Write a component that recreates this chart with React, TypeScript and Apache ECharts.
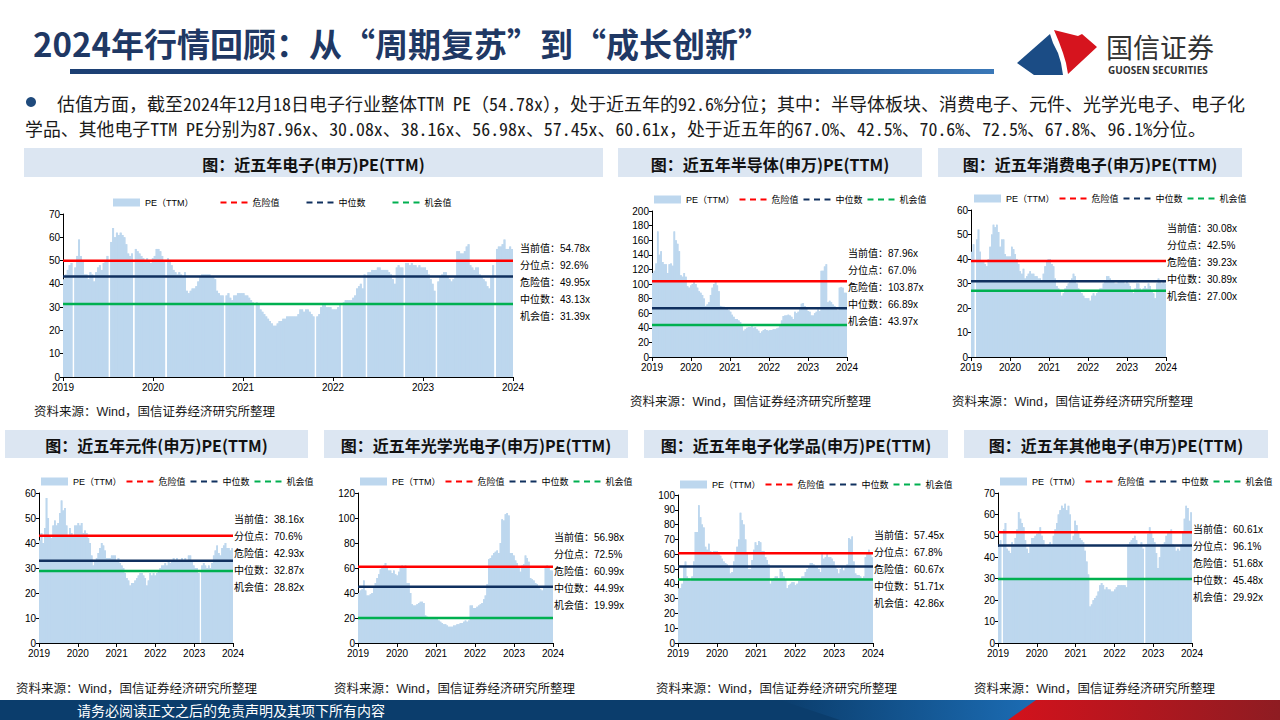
import React, { useEffect, useRef } from "react";
import * as echarts from "echarts";

// ---------------- data ----------------
const yearLabels = [2019, 2020, 2021, 2022, 2023, 2024];

const chartTitles = [
  "图：近五年电子(申万)PE(TTM)",
  "图：近五年半导体(申万)PE(TTM)",
  "图：近五年消费电子(申万)PE(TTM)",
  "图：近五年元件(申万)PE(TTM)",
  "图：近五年光学光电子(申万)PE(TTM)",
  "图：近五年电子化学品(申万)PE(TTM)",
  "图：近五年其他电子(申万)PE(TTM)",
];

const currentValues = [54.78, 87.96, 30.08, 38.16, 56.98, 57.45, 60.61];
const percentiles = ["92.6", "67.0", "42.5", "70.6", "72.5", "67.8", "96.1"];
const dangerValues = [49.95, 103.87, 39.23, 42.93, 60.99, 60.67, 51.68];
const medianValues = [43.13, 66.89, 30.89, 32.87, 44.99, 51.71, 45.48];
const chanceValues = [31.39, 43.97, 27.0, 28.82, 19.99, 42.86, 29.92];

const yMaxes = [70, 200, 60, 60, 120, 100, 70];
const yIntervals = [10, 20, 10, 10, 20, 10, 10];

// 电子(申万) PE(TTM)
const peAll = [
  42, 44, 46, 48, 49, null, 47, 52, 59, 52,
  50, 44, 44, 42, 45, 44, 41, 45, 47, 48,
  46, 49, 50, 52, null, 58, 64, 60, 62, 61,
  62, 61, 60, 57, 53, 52, 53, null, 55, 54,
  53, 52, 51, 50, 51, 50, 49, 51, 52, 55,
  55, 54, 52, 50, null, 51, 50, 48, 46, 45,
  44, 45, 44, 43, 45, 37, 36, 37, 38, 38,
  39, 41, 43, 44, 44, 44, 44, 44, 43, 43,
  42, 37, 36, 35, 35, null, 35, 36, 34, 33,
  35, 35, 36, 36, 36, 36, 35, 35, 34, 33,
  32, null, 32, 31, 29, 28, 27, 26, 25, 24,
  23, 22, 22, 23, 24, 24, 25, 25, 26, 26,
  26, 26, 26, 26, 27, 29, 29, 28, 29, 29,
  28, 27, 26, null, 26, 27, 30, 31, 31, 30,
  30, 30, 29, 29, 29, 30, 31, null, 32, 33,
  33, 33, 33, 34, 35, 38, 39, 40, 38, 44,
  null, 45, 45, 46, 46, 46, 47, 47, 46, 46,
  46, 46, 45, 44, 42, 40, 47, 48, 47, 47,
  null, 49, 49, 48, 49, 48, 48, 47, 48, 47,
  47, 47, 46, 44, 42, 40, 37, null, 41, 43,
  44, 45, 45, 43, 42, 41, 42, 43, 54, 54,
  53, 53, 54, 56, 57, 48, 47, 46, 47, 47,
  44, 43, 42, 41, 39, 38, 43, 48, null, 55,
  56, 56, 57, 59, 55, 55, 56, 55,
];

// 半导体
const peSemi = [
  115, 118, 128, 172, 140, 145, 130, 127, 127, 115,
  127, 128, 125, 172, 160, 155, 145, 112, 110, 115,
  110, 97, 95, 98, 100, 105, 100, 95, 90, 88,
  85, 80, 70, 72, 75, 85, 95, 100, 103, 98,
  90, 70, 69, 69, 68, 66, 64, 62, 58, 55,
  52, 52, 50, 48, 42, 36, 38, 40, 41, 41,
  42, 40, 41, 38, 36, 33, 35, 37, 38, 37,
  36, 37, 37, 38, 38, 39, 40, 45, 50, 56,
  57, 57, 58, 57, 55, 52, 62, 60, 62, 65,
  73, 74, 70, 66, 63, 62, 57, 57, 60, 62,
  65, 63, 118, 118, 124, 127, 75, 77, 75, 72,
  70, 68, 64, 95, 96, 95, 88, 88,
];

// 消费电子
const peCons = [
  43, 46, null, 48, 52, 43, 39, 39, 38, 37,
  40, 45, 50, 54, 53, 54, 51, 45, 48, 48,
  42, 41, 41, 41, 45, 44, 42, 40, 38, 35,
  34, 36, 32, 33, 34, 35, 34, 34, 33, 33,
  32, 32, 31, 34, 37, 39, 40, 40, 38, 37,
  32, 29, 28, 27, 25, 26, 28, 29, 30, 31,
  32, 34, 33, 30, 28, 27, 26, 25, 24, 24,
  24, 23, 25, 26, 25, 26, 27, 28, 28, 30,
  31, 33, 33, 32, 31, 31, 30, 30, 31, 31,
  31, 31, 30, 31, 30, 29, 27, 26, 28, 30,
  30, 28, 27, 28, 29, 28, 30, 29, 27, 26,
  24, 30, 32, 31, 30, 31, 30,
];

// 元件
const peComp = [
  41, 44, 40, 46, 58, 50, 43, 42, 47, 49,
  47, 48, 52, 57, 53, 54, 47, 43, 46, 44,
  43, 47, 47, 48, 47, 48, 44, 45, 44, 42,
  40, 35, 31, 33, 34, 36, 38, 40, 39, 37,
  34, 34, 34, 35, 35, 35, 33, 34, 32, 31,
  30, 28, 26, 25, 23, 24, 24, 25, 26, 27,
  28, 28, 27, 26, 23, 25, 28, 27, 28, 27,
  28, 29, 30, 31, 31, 32, 31, 33, 32, 33,
  34, 33, 34, 33, 33, 34, 33, 34, 33, 35,
  35, 33, 31, 30, 30, 28, null, 31, 32, 31,
  30, 31, 30, 32, 35, 37, 39, 36, 35, 38,
  39, 40, 38, 38, 37, 38,
];

// 光学光电子
const peOpto = [
  40, 42, 43, 50, 42, 38, 38, 39, 40, 45,
  48, 52, 55, 59, 60, 62, 64, 60, 58, 58,
  56, 58, 55, 54, 57, 60, 62, 60, 62, 48,
  48, 40, 31, 30, 30, 31, 32, 33, 33, 32,
  22, 21, 20, 20, 20, 20, 20, 20, 18, 17,
  16, 15, 15, 14, 13, 13, 13, 14, 14, 15,
  15, 16, 16, 17, 18, 17, 18, 30, 30, 28,
  28, 29, 30, 31, 32, 35, 38, 47, 67, 68,
  70, 72, 73, 74, 72, 80, 99, 98, 103, 104,
  102, 72, 72, 70, 66, 64, 60, 57, 62, 63,
  70, 68, 65, 52, 51, 50, 48, 47, 45, 43,
  42, 45, 60, 62, 61, 58, 58,
];

// 电子化学品
const peChem = [
  37, 37, 40, 52, 55, 45, 44, 42, 45, 55,
  75, 75, 93, 85, 80, 78, 65, 63, 67, 62,
  61, 62, 62, 62, 60, 59, 57, 55, 54, 53,
  52, 47, 48, 55, 60, 65, 70, 88, 83, 80,
  70, 60, 50, 50, 56, 63, 68, 66, 69, 68,
  62, 62, 58, 56, 53, 40, 43, 44, 45, 45,
  44, 50, 48, 45, 43, 37, 39, 40, 41, 41,
  39, 40, 42, 43, 45, 45, 48, 50, 52, 54,
  54, 53, 52, 51, 50, 48, 60, 57, 58, 60,
  58, 58, 57, 55, 52, 50, 47, 50, 52, 49,
  51, 53, 71, 70, 72, 55, 47, 46, 46, 45,
  44, 45, 58, 60, 63, 60, 58,
];

// 其他电子
const peOther = [
  45, 48, null, 53, 56, 44, 43, 42, 47, 46,
  49, 53, 61, 58, 56, 54, 48, 44, 42, 46,
  49, 49, 50, 51, 52, 54, 50, 48, 45, 45,
  46, 47, 46, 50, 53, 56, 60, 62, 64, 63,
  65, 62, 64, 60, 48, 50, 57, 55, 52, 49,
  48, 47, 43, 38, 32, 17, 18, 20, 21, 22,
  24, 27, 28, 27, 25, 26, 25, 25, 24, 24,
  25, 26, 27, 27, 27, 27, 27, 26, 46, 47,
  48, 49, 50, 48, 46, 45, 47, 44, null, 46,
  51, 54, 52, 49, 47, 42, 35, 40, 45, 46,
  47, 50, 52, 52, 53, 46, 45, 43, 44, 43,
  46, 52, 58, 64, 63, 57, 61,
];

const peSeries = [peAll, peSemi, peCons, peComp, peOpto, peChem, peOther];

const headline = "2024年行情回顾：从“周期复苏”到“成长创新”";
const bodyLine1 =
  "估值方面，截至2024年12月18日电子行业整体TTM PE（54.78x），处于近五年的92.6%分位；其中：半导体板块、消费电子、元件、光学光电子、电子化";
const bodyLine2 =
  "学品、其他电子TTM PE分别为87.96x、30.08x、38.16x、56.98x、57.45x、60.61x，处于近五年的67.0%、42.5%、70.6%、72.5%、67.8%、96.1%分位。";
const sourceText = "资料来源：Wind，国信证券经济研究所整理";
const footerText = "请务必阅读正文之后的免责声明及其项下所有内容";

const PE_NAME = "PE（TTM）";
const DANGER_NAME = "危险值";
const MEDIAN_NAME = "中位数";
const CHANCE_NAME = "机会值";

// ---------------- layout ----------------
type Panel = {
  box: number[];
  plot: number[];
  legend: number[];
  legendGap: number;
  note: number[];
  src: number[];
};

const panels: Panel[] = [
  { box: [24, 148, 579, 29], plot: [63, 214, 450, 163], legend: [113, 198], legendGap: 26, note: [520, 248], src: [34, 412] },
  { box: [618, 148, 304, 29], plot: [652, 211, 195, 146], legend: [654, 195], legendGap: 4, note: [848, 253], src: [630, 402] },
  { box: [938, 148, 304, 29], plot: [971, 210, 195, 147], legend: [974, 194], legendGap: 4, note: [1167, 228], src: [952, 402] },
  { box: [5, 430, 303, 28], plot: [39, 493, 194, 150], legend: [41, 477], legendGap: 4, note: [234, 519], src: [16, 689] },
  { box: [324, 430, 304, 28], plot: [358, 493, 195, 150], legend: [360, 477], legendGap: 4, note: [554, 537], src: [334, 689] },
  { box: [644, 430, 304, 28], plot: [678, 495, 195, 148], legend: [680, 480], legendGap: 4, note: [874, 535], src: [656, 689] },
  { box: [964, 430, 304, 28], plot: [998, 493, 194, 150], legend: [1000, 477], legendGap: 4, note: [1193, 529], src: [974, 689] },
];

const CJK = "'Noto Sans CJK SC', 'Noto Sans', sans-serif";
const LATIN_CJK = "'Liberation Sans', Arial, 'Noto Sans CJK SC', sans-serif";
const MONO_CJK = "'Noto Sans Mono CJK SC', 'Liberation Mono', 'Noto Sans CJK SC', monospace";

const BAR_COLOR = "#bdd7ee";
const RED = "#ff0000";
const NAVY = "#10305f";
const GREEN = "#00b050";

function buildOption() {
  const grid: any[] = [];
  const xAxis: any[] = [];
  const yAxis: any[] = [];
  const series: any[] = [];
  const legend: any[] = [];
  const elements: any[] = [];

  const yStart = yearLabels[0];
  const yEnd = yearLabels[yearLabels.length - 1];

  panels.forEach((p, i) => {
    const [gl, gt, gw, gh] = p.plot;
    const data = peSeries[i];
    grid.push({ left: gl, top: gt, width: gw, height: gh, containLabel: false });
    xAxis.push({
      type: "category",
      gridIndex: i,
      data: data.map((_, k) => k),
      show: false,
      boundaryGap: true,
    });
    xAxis.push({
      type: "value",
      gridIndex: i,
      min: yStart,
      max: yEnd,
      interval: 1,
      position: "bottom",
      axisLine: { show: true, onZero: false, lineStyle: { color: "#000", width: 1 } },
      axisTick: { show: true, length: 4, lineStyle: { color: "#000" } },
      axisLabel: { fontSize: 10, color: "#000", margin: 5, fontFamily: LATIN_CJK, formatter: (v: number) => String(v) },
      splitLine: { show: false },
    });
    yAxis.push({
      type: "value",
      gridIndex: i,
      min: 0,
      max: yMaxes[i],
      interval: yIntervals[i],
      axisLine: { show: true, lineStyle: { color: "#000", width: 1 } },
      axisTick: { show: true, length: 3, lineStyle: { color: "#000" } },
      axisLabel: { fontSize: 10, color: "#000", margin: 3, fontFamily: LATIN_CJK },
      splitLine: { show: false },
    });
    series.push({
      type: "bar",
      name: PE_NAME,
      xAxisIndex: 2 * i,
      yAxisIndex: i,
      data,
      barCategoryGap: "0%",
      barGap: "0%",
      itemStyle: { color: BAR_COLOR },
      silent: true,
      z: 2,
    });
    // same values as a stepped fill underneath the bars (hides anti-aliasing seams between adjacent columns)
    series.push({
      type: "line",
      name: "PE-fill",
      xAxisIndex: 2 * i,
      yAxisIndex: i,
      data,
      step: "middle",
      symbol: "none",
      connectNulls: false,
      lineStyle: { width: 0, color: BAR_COLOR },
      areaStyle: { color: BAR_COLOR, opacity: 1 },
      silent: true,
      z: 1,
    });
    const lines: [string, number, string][] = [
      [DANGER_NAME, dangerValues[i], RED],
      [MEDIAN_NAME, medianValues[i], NAVY],
      [CHANCE_NAME, chanceValues[i], GREEN],
    ];
    lines.forEach(([name, v, color]) => {
      series.push({
        type: "line",
        name,
        xAxisIndex: 2 * i + 1,
        yAxisIndex: i,
        data: [
          [yStart, v],
          [yEnd, v],
        ],
        symbol: "none",
        lineStyle: { color, width: 2.5 },
        itemStyle: { color },
        silent: true,
        z: 3,
      });
    });

    legend.push({
      left: p.legend[0],
      top: p.legend[1],
      padding: 0,
      itemWidth: 27,
      itemHeight: 8,
      itemGap: p.legendGap,
      selectedMode: false,
      textStyle: { fontSize: 9, color: "#000", fontFamily: LATIN_CJK },
      data: [
        { name: PE_NAME, icon: "rect", itemStyle: { color: BAR_COLOR, borderWidth: 0 } },
        { name: DANGER_NAME, itemStyle: { opacity: 0 }, lineStyle: { color: RED, width: 2, type: [6, 4.5] } },
        { name: MEDIAN_NAME, itemStyle: { opacity: 0 }, lineStyle: { color: NAVY, width: 2, type: [6, 4.5] } },
        { name: CHANCE_NAME, itemStyle: { opacity: 0 }, lineStyle: { color: GREEN, width: 2, type: [6, 4.5] } },
      ],
    });

    // title box
    const [bx, by, bw, bh] = p.box;
    elements.push({ type: "rect", shape: { x: bx, y: by, width: bw, height: bh }, style: { fill: "#dce6f2" }, silent: true });
    elements.push({
      type: "text",
      x: bx + bw / 2,
      y: by + bh / 2 + 1,
      style: {
        text: chartTitles[i],
        fill: "#111",
        fontSize: 16,
        fontWeight: "bold",
        fontFamily: CJK,
        textAlign: "center",
        textVerticalAlign: "middle",
      },
      silent: true,
    });
    // notes
    const notes = [
      `当前值：${currentValues[i].toFixed(2)}x`,
      `分位点：${percentiles[i]}%`,
      `危险值：${dangerValues[i].toFixed(2)}x`,
      `中位数：${medianValues[i].toFixed(2)}x`,
      `机会值：${chanceValues[i].toFixed(2)}x`,
    ];
    notes.forEach((t, k) => {
      elements.push({
        type: "text",
        x: p.note[0],
        y: p.note[1] + k * 17,
        style: { text: t, fill: "#000", fontSize: 10, fontFamily: LATIN_CJK, textAlign: "left", textVerticalAlign: "middle" },
        silent: true,
      });
    });
    // source
    elements.push({
      type: "text",
      x: p.src[0],
      y: p.src[1],
      style: { text: sourceText, fill: "#1a1a1a", fontSize: 12.5, fontFamily: LATIN_CJK, textAlign: "left", textVerticalAlign: "middle" },
      silent: true,
    });
  });

  // header
  elements.push({
    type: "text",
    x: 33,
    y: 43,
    style: { text: headline, fill: "#1f3864", fontSize: 33, fontWeight: "bold", fontFamily: CJK, textAlign: "left", textVerticalAlign: "middle" },
    silent: true,
  });
  elements.push({
    type: "rect",
    shape: { x: 70, y: 69, width: 924, height: 5 },
    style: {
      fill: new echarts.graphic.LinearGradient(0, 0, 1, 0, [
        { offset: 0, color: "#1c3f73" },
        { offset: 0.75, color: "#22508a" },
        { offset: 1, color: "#3a78b8" },
      ]),
    },
    silent: true,
  });
  // logo
  elements.push({
    type: "polygon",
    shape: { points: [[1017, 63], [1050, 34], [1053, 43], [1058, 53], [1061, 63], [1063, 75], [1034, 75]] },
    style: { fill: "#1b4c85" },
    silent: true,
  });
  elements.push({
    type: "polygon",
    shape: { points: [[1054, 30], [1078, 36], [1082, 34], [1097, 47], [1068, 74], [1066, 63], [1063, 53], [1059, 42]] },
    style: { fill: "#d6141e" },
    silent: true,
  });
  elements.push({
    type: "text",
    x: 1106,
    y: 46,
    style: { text: "国信证券", fill: "#333", fontSize: 27, fontFamily: CJK, textAlign: "left", textVerticalAlign: "middle" },
    silent: true,
  });
  elements.push({
    type: "text",
    x: 1108,
    y: 70,
    style: { text: "GUOSEN SECURITIES", fill: "#333", fontSize: 10, fontWeight: "bold", fontFamily: "'Open Sans', 'Liberation Sans', sans-serif", textAlign: "left", textVerticalAlign: "middle" },
    silent: true,
  });
  // bullet text
  elements.push({ type: "circle", shape: { cx: 31, cy: 102, r: 5 }, style: { fill: "#1f4a7c" }, silent: true });
  elements.push({
    type: "text",
    x: 57,
    y: 103,
    style: { text: bodyLine1, fill: "#1a1a1a", fontSize: 18, fontFamily: MONO_CJK, textAlign: "left", textVerticalAlign: "middle" },
    silent: true,
  });
  elements.push({
    type: "text",
    x: 25,
    y: 128,
    style: { text: bodyLine2, fill: "#1a1a1a", fontSize: 17.9, fontFamily: MONO_CJK, textAlign: "left", textVerticalAlign: "middle" },
    silent: true,
  });
  // footer
  elements.push({ type: "rect", shape: { x: 0, y: 700, width: 1280, height: 20 }, style: { fill: "#0b3d6c" }, silent: true });
  elements.push({
    type: "polygon",
    shape: { points: [[780, 700], [1040, 700], [1012, 720], [840, 720]] },
    style: {
      fill: new echarts.graphic.LinearGradient(0, 0, 1, 0, [
        { offset: 0, color: "#0b3d6c" },
        { offset: 1, color: "#1c6db5" },
      ]),
    },
    silent: true,
  });
  elements.push({
    type: "polygon",
    shape: { points: [[1008, 720], [1036, 700], [1280, 700], [1280, 720]] },
    style: {
      fill: new echarts.graphic.LinearGradient(0, 0, 1, 0, [
        { offset: 0, color: "#d3121c" },
        { offset: 1, color: "#8e1c22" },
      ]),
    },
    silent: true,
  });
  elements.push({
    type: "text",
    x: 77,
    y: 710,
    style: { text: footerText, fill: "#fff", fontSize: 14, fontFamily: CJK, textAlign: "left", textVerticalAlign: "middle" },
    silent: true,
  });

  return {
    animation: false,
    backgroundColor: "#ffffff",
    grid,
    xAxis,
    yAxis,
    series,
    legend,
    graphic: { elements },
  };
}

export default function App() {
  const ref = useRef<HTMLDivElement>(null);
  useEffect(() => {
    document.body.style.margin = "0";
    const chart = echarts.init(ref.current as HTMLDivElement, undefined, { renderer: "svg" });
    chart.setOption(buildOption() as any);
    return () => chart.dispose();
  }, []);
  return (
    <div
      ref={ref}
      style={{ width: 1280, height: 720, position: "absolute", left: 0, top: 0, background: "#fff" }}
    />
  );
}
